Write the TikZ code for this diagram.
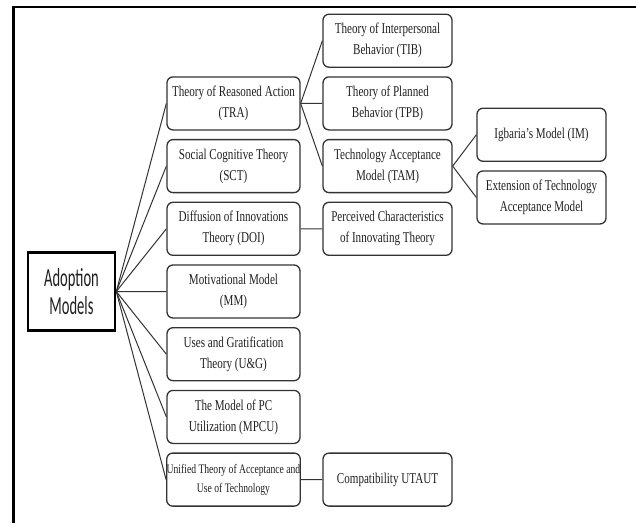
\documentclass[tikz,border=0pt]{standalone}
\usepackage{fontspec}
\setmainfont{Liberation Serif}
\newfontfamily\modelfont[FakeStretch=0.74]{Liberation Serif}
\newfontfamily\rootfont[FakeStretch=0.56]{Carlito}
\usetikzlibrary{trees, positioning}
\definecolor{boxline}{gray}{0.2}
\definecolor{boxtext}{gray}{0.12}

\begin{document}
\begin{tikzpicture}[x=1pt, y=1pt, grow'=right, sibling distance=62.7pt,
					level 1/.style={level distance=162pt, minimum width=133pt},
					level 2/.style={level distance=154pt, minimum width=129pt},
					level 3/.style={level distance=154pt, minimum width=129pt},
					modelbox/.style={draw=boxline, line width=1.3pt, rounded corners=6pt,
						minimum height=53pt, inner sep=1pt, align=center, text=boxtext,
						font=\modelfont\fontsize{15}{21}\selectfont},
					rootbox/.style={draw=black, line width=2.6pt, minimum width=87pt,
						minimum height=78pt, align=center, text=boxtext,
						font=\rootfont\fontsize{26}{28}\selectfont},
					every child node/.style={modelbox},
					edge from parent/.style={draw=boxline, line width=1pt},
					edge from parent path={(\tikzparentnode.east) -- (\tikzchildnode.west)}]

\useasboundingbox (0,0) rectangle (636,-523);
\draw[line width=2.4pt] (13.5,-523) |- (636,-7);

\node[rootbox] (root) at (71.5,-291.5) {Adoption\\Models}
	child {node (tra) {Theory of Reasoned Action\\(TRA)}
		child {node (tib) {Theory of Interpersonal\\Behavior (TIB)}}
		child {node (tpb) {Theory of Planned\\Behavior (TPB)}}
		child {node (tam) {Technology Acceptance\\Model (TAM)}
			child {node (im) {Igbaria’s Model (IM)}}
			child {node (etam) {Extension of Technology\\Acceptance Model}}
		}
	}
	child {node (sct) {Social Cognitive Theory\\(SCT)}}
	child {node (doi) {Diffusion of Innovations\\Theory (DOI)}
		child {node (pci) {Perceived Characteristics\\of Innovating Theory}}
	}
	child {node (mm) {Motivational Model\\(MM)}}
	child {node (ug) {Uses and Gratification\\Theory (U\&G)}}
	child {node (mpcu) {The Model of PC\\Utilization (MPCU)}}
	child {node[font=\modelfont\fontsize{13}{19}\selectfont, inner sep=0pt] (utaut)
			{Unified Theory of Acceptance and\\Use of Technology}
		child {node (cutaut) {Compatibility UTAUT}}
	}
;
\end{tikzpicture}
\end{document}
